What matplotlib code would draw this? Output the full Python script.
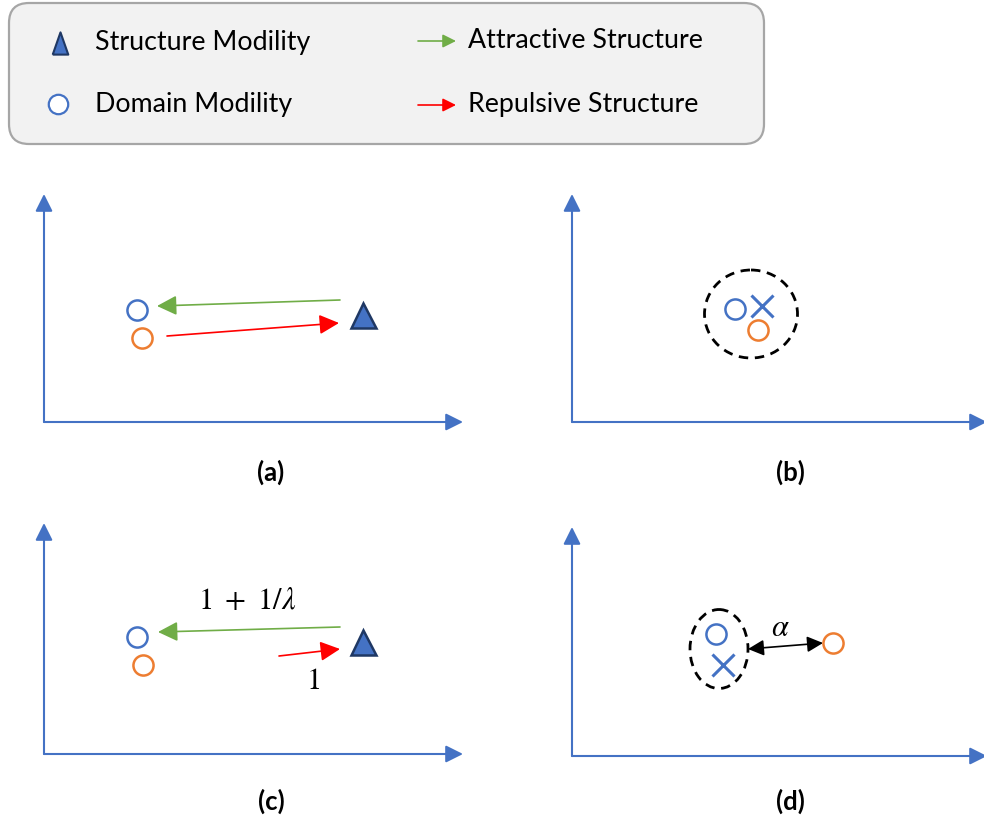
import matplotlib.pyplot as plt
from matplotlib.patches import Ellipse, FancyBboxPatch

plt.rcParams['font.family'] = ['Lato', 'DejaVu Sans']
plt.rcParams['mathtext.fontset'] = 'stix'

AX_BLUE = '#4472c4'
GREEN = '#70ad47'
RED = '#ff0000'
ORANGE = '#ed7d31'
NAVY = '#1f3864'

# diagram layout, in pixels of the 984x824 picture (y grows downward)
# axis origins and the tips of their arrows: (x0, y0, x_tip, y_tip)
panel_axes = [(44, 422, 463, 194), (572, 422, 987, 194),
              (44, 754, 463, 523), (572, 756, 987, 527)]
panel_labels = ['(a)', '(b)', '(c)', '(d)']
label_pos = [(271, 472), (790, 472), (271, 801), (790, 801)]

# domain points (blue circles), orange points, structure points (triangles), crosses
blue_x = [137, 735, 137, 716]
blue_y = [310, 309, 637, 634]
orange_x = [142, 758, 143, 833]
orange_y = [338, 330, 665, 643]
tri_x = [363, 363]
tri_y = [315, 642]
cross_x = [762, 723]
cross_y = [306, 665]

# arrows: (x_from, y_from, x_to, y_to)
green_arrows = [(340, 300, 157, 306), (340, 627, 158, 632)]
red_arrows = [(167, 336, 339, 323), (279, 656, 340, 649)]
alpha_arrow = (748, 649, 823, 643)

# dashed groups: (cx, cy, width, height)
groups = [(751, 314, 93, 88), (719, 649, 58, 79)]

fig = plt.figure(figsize=(9.84, 8.24), dpi=100)
ax = fig.add_axes([0, 0, 1, 1])
ax.set_xlim(0, 984)
ax.set_ylim(824, 0)
ax.axis('off')


def arrow(x0, y0, x1, y1, color, lw=1.2, style='-|>', ms=22):
    ax.annotate('', xy=(x1, y1), xytext=(x0, y0), annotation_clip=False,
                arrowprops=dict(arrowstyle=style, color=color, lw=lw,
                                mutation_scale=ms, shrinkA=0, shrinkB=0))


# legend box
box = FancyBboxPatch((9, 3), 755, 141, boxstyle='round,pad=0,rounding_size=20',
                     fc='#f2f2f2', ec='#a6a6a6', lw=1.6)
ax.add_patch(box)
tall_tri = [(-0.7, -1), (0.7, -1), (0, 1), (-0.7, -1)]
ax.plot([60], [43], marker=tall_tri, ms=16, mfc=AX_BLUE, mec=NAVY, mew=1.5)
ax.plot([58], [104], marker='o', ms=14, mfc='white', mec=AX_BLUE, mew=1.6)
ax.text(95, 42, 'Structure Modility', fontsize=19.3, va='center', ha='left')
ax.text(95, 104, 'Domain Modility', fontsize=19.3, va='center', ha='left')
arrow(418, 41, 456, 41, GREEN, ms=20)
arrow(418, 105, 456, 105, RED, ms=20)
ax.text(468, 40, 'Attractive Structure', fontsize=19.3, va='center', ha='left')
ax.text(468, 104, 'Repulsive Structure', fontsize=19.3, va='center', ha='left')

# axes of each panel
for (x0, y0, xt, yt), lab, (lx, ly) in zip(panel_axes, panel_labels, label_pos):
    arrow(x0, y0, xt, y0, AX_BLUE, lw=1.5, ms=26)
    arrow(x0, y0, x0, yt, AX_BLUE, lw=1.5, ms=26)
    ax.text(lx, ly, lab, fontsize=18.5, fontweight='bold', ha='center', va='center')

for (cx, cy, w, h) in groups:
    ax.add_patch(Ellipse((cx, cy), w, h, fill=False, ec='black', lw=2,
                         ls=(0, (3.4, 2.4))))

ax.plot(blue_x, blue_y, ls='none', marker='o', ms=14.5, mfc='white', mec=AX_BLUE, mew=1.8)
ax.plot(orange_x, orange_y, ls='none', marker='o', ms=14.5, mfc='white', mec=ORANGE, mew=1.8)
ax.plot(tri_x, tri_y, ls='none', marker='^', ms=18, mfc=AX_BLUE, mec=NAVY, mew=1.8)
ax.plot(cross_x, cross_y, ls='none', marker='x', ms=16, mec=AX_BLUE, mew=2.2)

for a in green_arrows:
    arrow(*a, GREEN, lw=1.2, ms=30)
for a in red_arrows:
    arrow(*a, RED, lw=1.2, ms=30)
arrow(*alpha_arrow, 'black', lw=1.2, style='<|-|>', ms=24)

ax.text(247, 600, r'$1\ +\ 1/\lambda$', fontsize=22, ha='center', va='center')
ax.text(313, 680, r'$1$', fontsize=22, ha='center', va='center')
ax.text(780, 627, r'$\alpha$', fontsize=22, ha='center', va='center')

fig.savefig('out.png', dpi=100, facecolor='white')
